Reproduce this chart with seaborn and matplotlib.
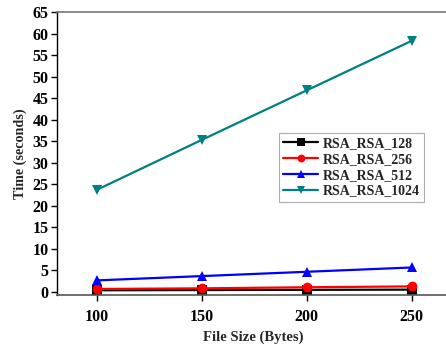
import matplotlib
matplotlib.use("Agg")
import matplotlib.pyplot as plt
import seaborn as sns
import pandas as pd

file_sizes = [100, 150, 200, 250]
rsa_128 = [0.3, 0.35, 0.4, 0.45]
rsa_256 = [0.6, 0.75, 1.0, 1.2]
rsa_512 = [2.6, 3.6, 4.6, 5.6]
rsa_1024 = [23.7, 35.3, 46.8, 58.3]
series_names = ["RSA_RSA_128", "RSA_RSA_256", "RSA_RSA_512", "RSA_RSA_1024"]
y_ticks = list(range(0, 70, 5))

rows = []
for name, vals in zip(series_names, [rsa_128, rsa_256, rsa_512, rsa_1024]):
    for x, v in zip(file_sizes, vals):
        rows.append({"File Size": x, "Time": v, "Series": name})
df = pd.DataFrame(rows)

sns.set_style("white")
plt.rcParams["font.family"] = ["Liberation Serif", "DejaVu Serif"]
plt.rcParams["font.weight"] = "bold"

fig = plt.figure(figsize=(4.46, 3.44), dpi=100)
ax = fig.add_axes([57 / 446, 1 - 295 / 344, 1 - 57 / 446 + 0.01, 283 / 344])

palette = {"RSA_RSA_128": "#000000", "RSA_RSA_256": "#ff0000",
           "RSA_RSA_512": "#0000ff", "RSA_RSA_1024": "#008080"}
markers = {"RSA_RSA_128": "s", "RSA_RSA_256": "o",
           "RSA_RSA_512": "^", "RSA_RSA_1024": "v"}
sns.lineplot(data=df, x="File Size", y="Time", hue="Series", style="Series",
             palette=palette, markers=markers, dashes=False, markersize=7,
             markeredgewidth=0, linewidth=1.6, ax=ax)

ax.set_xlim(80.8, 268.5)
ax.set_ylim(-0.8, 65)
ax.set_xticks(file_sizes)
ax.set_yticks(y_ticks)
ax.tick_params(axis="both", direction="out", length=4, width=1, labelsize=11.5,
               left=True, bottom=True, colors="black")
ax.tick_params(axis="x", pad=6)
ax.tick_params(axis="y", pad=2)
for lbl in ax.get_xticklabels() + ax.get_yticklabels():
    lbl.set_fontweight("bold")
ax.set_xlabel("File Size (Bytes)", fontsize=10.5, fontweight="bold", labelpad=4)
ax.set_ylabel("Time (seconds)", fontsize=10.2, fontweight="bold", labelpad=4)

ax.spines["right"].set_visible(False)
ax.spines["top"].set_color("#777777")
ax.spines["top"].set_linewidth(1.2)
ax.spines["left"].set_color("black")
ax.spines["bottom"].set_color("#555555")
ax.spines["left"].set_linewidth(1.0)
ax.spines["bottom"].set_linewidth(1.2)

leg = ax.legend(loc="upper left", bbox_to_anchor=(0.565, 0.572), frameon=True,
                fancybox=False, edgecolor="#999999",
                prop={"weight": "bold", "size": 10}, handlelength=2.5,
                borderpad=0.3, labelspacing=0.2, handletextpad=0.3,
                borderaxespad=0, markerscale=0.8)
leg.get_frame().set_linewidth(0.8)

fig.savefig("out.png", dpi=100)
